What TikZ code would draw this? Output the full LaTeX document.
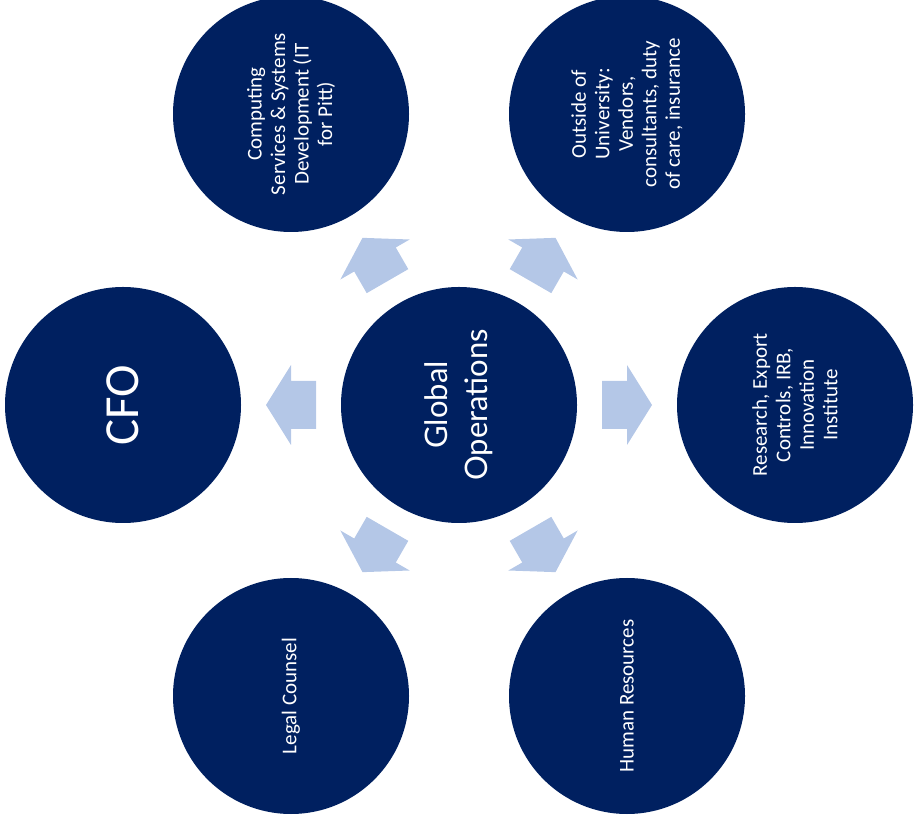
\documentclass[tikz,border=0pt]{standalone}
\usepackage{fontspec}
\setmainfont{Carlito}
\newfontfamily\headfont{Lato}
\usetikzlibrary{calc}
\definecolor{navy}{HTML}{002060}
\definecolor{arrowblue}{HTML}{B4C7E7}
\tikzset{
	unit/.style={circle, fill=navy, minimum size=236pt, inner sep=0pt, text=white, align=center, rotate=90, font=\fontsize{21}{23.5}\selectfont},
	blockarrow/.pic={\fill[arrowblue] (-25,-24) -- (0,-24) -- (0,-40) -- (25,0) -- (0,40) -- (0,24) -- (-25,24) -- cycle;}
}

\begin{document}
\begin{tikzpicture}[x=1pt, y=1pt]
		\useasboundingbox (0,0) rectangle (915,827);
		% Draw units.
		\node[unit, font=\headfont\fontsize{31}{40}\selectfont] (glob) at (459,422) {Global\\Operations};
		\node[unit, font=\fontsize{49}{55}\selectfont] (cfo) at (123,422) {CFO};
		\node[unit] (rsch) at (795,422) {Research, Export\\Controls, IRB,\\Innovation\\Institute};
		\node[unit] (comp) at (291,713) {Computing\\Services \& Systems\\Development (IT\\for Pitt)};
		\node[unit] (outs) at (627,713) {Outside of\\University:\\Vendors,\\consultants, duty\\of care, insurance};
		\node[unit] (legal) at (291,131) {Legal Counsel};
		\node[unit] (hr) at (627,131) {Human Resources};
		% Draw arrows.
		\foreach \n/\a in {cfo/180, rsch/0, comp/120, outs/60, legal/240, hr/300}
			\pic[rotate=\a] at ($(glob)!0.5!(\n)$) {blockarrow};
	\end{tikzpicture}
\end{document}
